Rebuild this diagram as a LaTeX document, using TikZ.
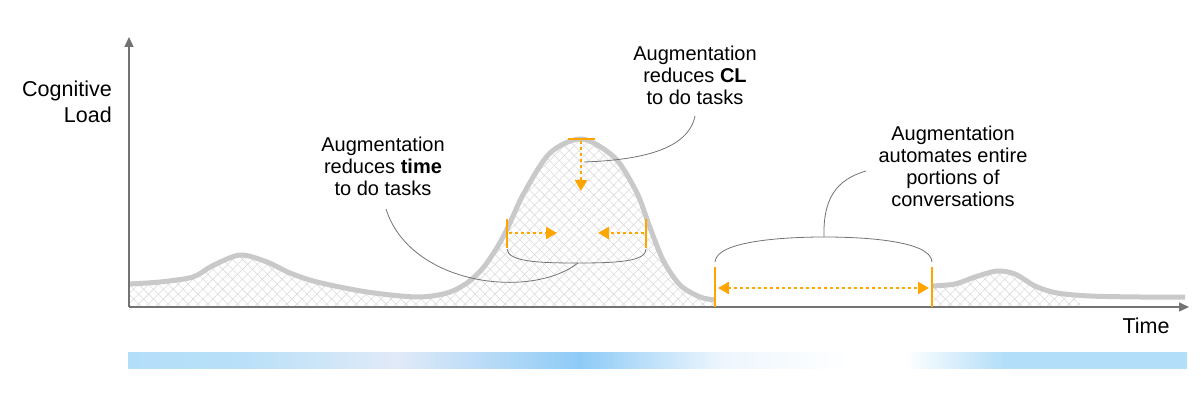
\documentclass[tikz,border=0pt]{standalone}
\usepackage{fontspec}
\setmainfont{Liberation Sans}
\usetikzlibrary{arrows.meta,patterns.meta,fadings}
\definecolor{org}{HTML}{FFA500}
\definecolor{bA}{HTML}{B3DEF9}
\definecolor{bB}{HTML}{B8E0F8}
\definecolor{bC}{HTML}{E1EAF8}
\definecolor{bD}{HTML}{8ECBF7}
\definecolor{bE}{HTML}{EEF6FD}
\begin{document}
\begin{tikzpicture}[x=1pt,y=-1pt,
  axis/.style={draw=black!50,line width=1.4pt,-{Triangle[length=10pt,width=9pt]},color=black!55},
  hatchA/.style={pattern={Lines[angle=45,distance=7pt,line width=0.6pt]},pattern color=black!14},
  hatchB/.style={pattern={Lines[angle=-45,distance=7pt,line width=0.6pt]},pattern color=black!14},
  curve/.style={draw=black!21,line width=5pt},
  obar/.style={draw=org,line width=2pt},
  odot/.style={draw=org,line width=2.4pt,dash pattern=on 3pt off 3pt,-{Triangle[length=11pt,width=12pt]}},
  odot2/.style={draw=org,line width=2.4pt,dash pattern=on 3pt off 3pt,{Triangle[length=11pt,width=12pt]}-{Triangle[length=11pt,width=12pt]}},
  lead/.style={draw=black!55,line width=0.8pt},
  lbl/.style={align=center,inner sep=0pt,anchor=north,font=\fontsize{20}{22}\selectfont},
]
\useasboundingbox (0,0) rectangle (1201,403);

% gradient bar
\shade[left color=bA,right color=bB] (128,352) rectangle (241.5,368);
\shade[left color=bB,right color=bC] (241,352) rectangle (396.5,368);
\shade[left color=bC,right color=bD] (396,352) rectangle (580.5,368);
\shade[left color=bD,right color=bE] (580,352) rectangle (721.5,368);
\shade[left color=bE,right color=white] (721,352) rectangle (850.5,368);
\shade[left color=white,right color=white] (850,352) rectangle (905.5,368);
\shade[left color=white,right color=bA] (905,352) rectangle (1003.5,368);
\shade[left color=bA,right color=bA] (1003,352) rectangle (1187,368);

% hatch fills
\foreach \h in {hatchA,hatchB}{
\fill[\h] (129,307) -- plot[smooth] coordinates {(129,284) (160,282) (193,277) (212,266) (240,255) (267,262) (290,273) (317,282) (367,292) (417,297) (447,293) (467,283) (483,268) (498,246) (509,225) (524,193) (550,153) (582,139) (615,158) (637,193) (649,225) (663,260) (680,285) (700,297) (715,300)} -- (715,307) -- cycle;
\fill[\h] (932,307) -- plot[smooth] coordinates {(932,286) (955,284) (975,277) (997,271) (1015,274) (1035,286) (1057,293) (1080,296)} -- (1080,307) -- cycle;
}

% curves
\draw[curve] plot[smooth] coordinates {(129,284) (160,282) (193,277) (212,266) (240,255) (267,262) (290,273) (317,282) (367,292) (417,297) (447,293) (467,283) (483,268) (498,246) (509,225) (524,193) (550,153) (582,139) (615,158) (637,193) (649,225) (663,260) (680,285) (700,297) (715,300)};
\draw[curve] plot[smooth] coordinates {(932,286) (955,284) (975,277) (997,271) (1015,274) (1035,286) (1057,293) (1090,296) (1140,297) (1185,297)};

% axes
\coordinate (O) at (129,307);
\coordinate (Ytip) at (129,37);
\coordinate (Xtip) at (1189,307);
\draw[axis] (O) -- (Ytip);
\draw[axis] (O) -- (Xtip);

% labels
\node[align=right,inner sep=0pt,anchor=north east,font=\fontsize{21.5}{26}\selectfont] (cl) at (112,80.5) {Cognitive\\Load};
\node[inner sep=0pt,anchor=base,font=\fontsize{21.5}{26}\selectfont] (time) at (1146,333) {Time};
\node[lbl] (tCL) at (695,45.5) {Augmentation\\reduces \textbf{CL}\\to do tasks};
\node[lbl] (tTime) at (383,136.5) {Augmentation\\reduces \textbf{time}\\to do tasks};
\node[lbl] (tConv) at (953,125.5) {Augmentation\\automates entire\\portions of\\conversations};

% peak markers
\coordinate (pkL) at (568,139);
\coordinate (pkR) at (595,139);
\coordinate (vs) at (581,141);
\coordinate (ve) at (581,191);
\draw[obar] (pkL) -- (pkR);
\draw[odot] (vs) -- (ve);

\coordinate (lbT) at (507,219);
\coordinate (lbB) at (507,248);
\coordinate (rbT) at (646,219);
\coordinate (rbB) at (646,248);
\draw[obar] (lbT) -- (lbB);
\draw[obar] (rbT) -- (rbB);
\coordinate (la) at (509,233);
\coordinate (lt) at (557,233);
\coordinate (ra) at (644,233);
\coordinate (rt) at (598,233);
\draw[odot] (la) -- (lt);
\draw[odot] (ra) -- (rt);

% automated span
\coordinate (aT) at (715,267);
\coordinate (aB) at (715,307);
\coordinate (bT) at (932,267);
\coordinate (bB) at (932,307);
\draw[obar] (aT) -- (aB);
\draw[obar] (bT) -- (bB);
\coordinate (da) at (718,288);
\coordinate (db) at (929,288);
\draw[odot2] (da) -- (db);

% brackets and leaders
\coordinate (br1L) at (507,249);
\coordinate (br1M) at (578,263);
\coordinate (br1R) at (646,249);
\draw[lead] (br1L) .. controls (508,262) and (540,263) .. (br1M) .. controls (620,263) and (646,261) .. (br1R);
\coordinate (l1s) at (386,209);
\draw[lead] (l1s) .. controls (410,285) and (530,300) .. (br1M);

\coordinate (l2s) at (695,116);
\coordinate (l2e) at (584,162);
\draw[lead] (l2s) .. controls (688,150) and (640,160) .. (l2e);

\coordinate (br2L) at (715,262);
\coordinate (br2M) at (824,237);
\coordinate (br2R) at (932,262);
\draw[lead] (br2L) .. controls (716,240) and (790,237) .. (br2M) .. controls (860,237) and (931,240) .. (br2R);
\coordinate (l3e) at (866,171);
\draw[lead] (br2M) .. controls (823,200) and (835,180) .. (l3e);
\end{tikzpicture}
\end{document}
